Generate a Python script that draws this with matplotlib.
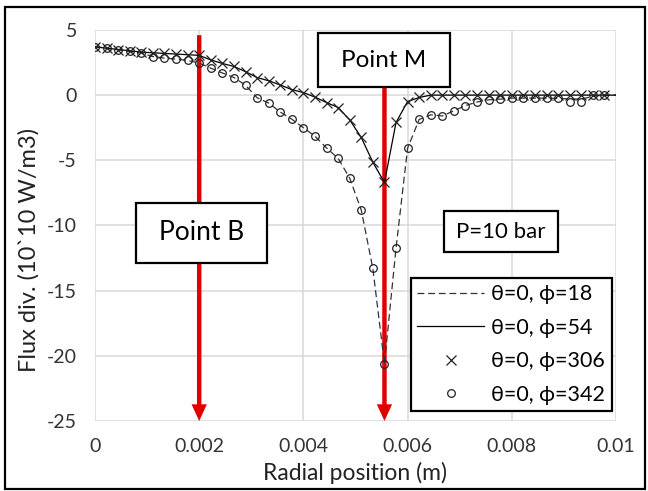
import numpy as np
import matplotlib
matplotlib.use("Agg")
import matplotlib.pyplot as plt
from matplotlib.patches import Rectangle

plt.rcParams['font.family'] = ['Lato', 'DejaVu Sans']
plt.rcParams['axes.unicode_minus'] = False

# radial positions (m)
r = [0, 0.000222, 0.000444, 0.000667, 0.000889, 0.001111, 0.001333, 0.001556,
     0.001778, 0.002, 0.002222, 0.002444, 0.002667, 0.002889, 0.003111, 0.003333,
     0.003556, 0.003778, 0.004, 0.004222, 0.004444, 0.004667, 0.004889, 0.005111,
     0.005333, 0.005556, 0.005778, 0.006, 0.006222, 0.006444, 0.006667, 0.006889,
     0.007111, 0.007333, 0.007556, 0.007778, 0.008, 0.008222, 0.008444, 0.008667,
     0.008889, 0.009111, 0.009333, 0.009556, 0.009778, 0.01]

# flux divergence (10^10 W/m3)
phi18 = [3.73, 3.6, 3.48, 3.35, 3.22, 2.96, 2.84, 2.76, 2.66, 2.46, 2.07, 1.7,
         1.35, 0.76, -0.2, -0.61, -1.3, -1.85, -2.5, -3.15, -4.05, -4.85, -6.37,
         -8.82, -13.3, -20.6, -11.74, -4.07, -1.87, -1.51, -1.6, -1.2, -0.8, -0.53,
         -0.36, -0.31, -0.23, -0.23, -0.23, -0.23, -0.25, -0.3, -0.3, -0.1, 0, 0]
phi54 = [3.7, 3.6, 3.5, 3.4, 3.3, 3.25, 3.2, 3.15, 3.1, 3.05, 2.7, 2.43, 2.2,
         1.8, 1.35, 1.1, 0.78, 0.42, 0.2, -0.15, -0.57, -0.95, -1.9, -3.25, -5.15,
         -6.7, -2.1, -0.49, -0.18, 0, 0, 0, 0, 0, 0, 0, 0, 0, 0, 0, 0, 0, 0, 0, 0, 0]
phi306 = [3.7, 3.6, 3.5, 3.4, 3.3, 3.25, 3.2, 3.15, 3.1, 3.05, 2.7, 2.43, 2.2,
          1.8, 1.35, 1.1, 0.78, 0.42, 0.2, -0.15, -0.57, -0.95, -1.9, -3.25, -5.15,
          -6.7, -2.1, -0.49, -0.18, 0, 0, 0, 0, 0, 0, 0, 0, 0, 0, 0, 0, 0, 0, 0, 0]
phi342 = [3.73, 3.6, 3.48, 3.35, 3.22, 2.96, 2.84, 2.76, 2.66, 2.46, 2.07, 1.7,
          1.35, 0.76, -0.2, -0.61, -1.3, -1.85, -2.5, -3.15, -4.05, -4.85, -6.37,
          -8.82, -13.3, -20.6, -11.74, -4.07, -1.87, -1.51, -1.6, -1.2, -0.8, -0.53,
          -0.36, -0.31, -0.23, -0.23, -0.23, -0.23, -0.23, -0.49, -0.49, 0, 0]

xticks = [0, 0.002, 0.004, 0.006, 0.008, 0.01]
xticklabels = ['0', '0.002', '0.004', '0.006', '0.008', '0.01']
yticks = [5, 0, -5, -10, -15, -20, -25]

point_b = 0.002
point_m = 0.005556
red = '#e10000'

fig = plt.figure(figsize=(6.48, 4.91), dpi=100)
ax = fig.add_axes([0.1466, 0.1426, 0.804, 0.7964])

ax.plot(r, phi18, color='#333333', lw=0.9, ls=(0, (5.5, 3)), label='θ=0, ϕ=18', zorder=4)
ax.plot(r, phi54, color='black', lw=0.9, label='θ=0, ϕ=54', zorder=4)
ax.plot(r[:len(phi306)], phi306, ls='none', marker='x', ms=7.5, mew=0.9,
        color='#222222', label='θ=0, ϕ=306', zorder=5)
ax.plot(r[:len(phi342)], phi342, ls='none', marker='o', ms=5.5, mew=0.9,
        mfc='none', mec='#222222', label='θ=0, ϕ=342', zorder=5)

# red arrows
for xa, ytop in [(point_b, 4.6), (point_m, 3.0)]:
    ax.annotate('', xy=(xa, -25), xytext=(xa, ytop),
                arrowprops=dict(width=3.2, headwidth=11, headlength=12, shrink=0,
                                facecolor=red, edgecolor=red, lw=0),
                zorder=3, annotation_clip=False)

# text boxes
def box(x0, y0, w, h, txt, fs):
    ax.add_patch(Rectangle((x0, y0), w, h, transform=ax.transAxes, facecolor='white',
                           edgecolor='black', lw=1.6, zorder=6, clip_on=False))
    ax.text(x0 + w / 2, y0 + h / 2, txt, transform=ax.transAxes, ha='center',
            va='center', fontsize=fs, zorder=7)

box(0.0787, 0.404, 0.2514, 0.1535, 'Point B', 19)
box(0.428, 0.854, 0.2534, 0.138, 'Point M', 17.5)
box(0.670, 0.432, 0.219, 0.105, 'P=10 bar', 16)

ax.set_xlim(0, 0.01)
ax.set_ylim(-25, 5)
ax.set_xticks(xticks)
ax.set_xticklabels(xticklabels)
ax.set_yticks(yticks)
ax.tick_params(length=0, labelsize=14, colors='#333333', pad=13)
ax.tick_params(axis='x', pad=12)
for s in ax.spines.values():
    s.set_visible(False)
ax.grid(True, color='#d9d9d9', lw=1.1)
ax.set_axisbelow(True)

ax.set_xlabel('Radial position (m)', fontsize=16.5, color='#222222', labelpad=5)
ax.set_ylabel('Flux div. (10`10 W/m3)', fontsize=17, color='#222222')
ax.yaxis.set_label_coords(-0.107, 0.437)

leg = ax.legend(loc='lower right', bbox_to_anchor=(0.992, 0.0256), fontsize=15.5,
                frameon=True, fancybox=False, framealpha=1, edgecolor='black',
                handlelength=3.1, handletextpad=0.35, labelspacing=0.62,
                borderpad=0.3, borderaxespad=0)
leg.get_frame().set_linewidth(1.6)
leg.set_zorder(8)

# outer border
fig.patches.append(Rectangle((0.0077, 0.004), 0.9877, 0.9816, transform=fig.transFigure,
                             fill=False, edgecolor='black', lw=1.6))

fig.savefig('out.png', dpi=100)
